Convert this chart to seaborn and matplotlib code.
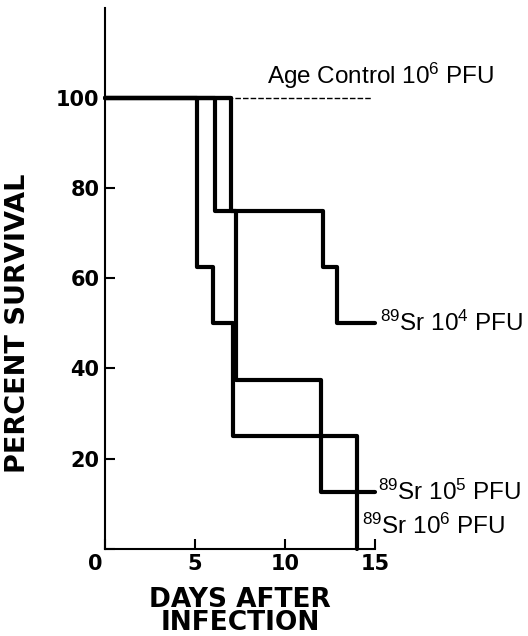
"""
Survival curves after infection, 89Sr treated vs age control.
"""

import matplotlib
matplotlib.use("Agg")
import matplotlib.pyplot as plt
from matplotlib.transforms import ScaledTranslation
import seaborn as sns
import pandas as pd

# step points (day, percent surviving), drawn as steps-post
days_1e4 = [0, 7.0, 12.1, 12.9, 15]
surv_1e4 = [100, 75, 62.5, 50, 50]

days_1e5 = [0, 6.1, 7.3, 12.0, 15]
surv_1e5 = [100, 75, 37.5, 12.5, 12.5]

days_1e6 = [0, 5.1, 6.0, 7.1, 14.0]
surv_1e6 = [100, 62.5, 50, 25, 0]

days_ctrl = [0, 14.8]
surv_ctrl = [100, 100]

x_ticks = [0, 5, 10, 15]
y_ticks = [0, 20, 40, 60, 80, 100]

sns.set_style("ticks")
plt.rcParams['font.family'] = ['DejaVu Sans']
plt.rcParams['mathtext.fontset'] = 'custom'
plt.rcParams['mathtext.rm'] = 'Liberation Sans'
plt.rcParams['mathtext.it'] = 'Liberation Sans:italic'
plt.rcParams['mathtext.bf'] = 'Liberation Sans:bold'
for key in ['text.color', 'axes.labelcolor', 'xtick.color', 'ytick.color', 'axes.edgecolor']:
    plt.rcParams[key] = 'black'

fig = plt.figure(figsize=(5.28, 6.36), dpi=100)
ax = fig.add_axes([0.199, 0.137, 0.511, 0.851])

step_kw = dict(color='black', linewidth=3.0, estimator=None, sort=False,
               drawstyle='steps-post', legend=False, clip_on=False)
sns.lineplot(x=days_ctrl, y=surv_ctrl, ax=ax, color='black', linewidth=1.0,
             linestyle=(0, (4, 1.5)), estimator=None, sort=False, legend=False)
for d, s in [(days_1e4, surv_1e4), (days_1e5, surv_1e5), (days_1e6, surv_1e6)]:
    df = pd.DataFrame({'day': d, 'surv': s})
    sns.lineplot(data=df, x='day', y='surv', ax=ax, **step_kw)
# thick overlap of the early 100% segment
sns.lineplot(x=[0, 7.0], y=[100, 100], ax=ax, color='black', linewidth=3.0,
             estimator=None, sort=False, legend=False)

ax.set_xlim(0, 15)
ax.set_ylim(0, 120)
ax.set_xticks(x_ticks)
ax.set_yticks(y_ticks)
ax.set_xticklabels([str(t) for t in x_ticks])
ax.set_yticklabels([''] + [str(t) for t in y_ticks[1:]])
ax.tick_params(direction='in', length=7, width=1.5, labelsize=15, pad=4)
for lab in ax.get_xticklabels() + ax.get_yticklabels():
    lab.set_fontweight('bold')
lab0 = ax.get_xticklabels()[0]
lab0.set_transform(lab0.get_transform() + ScaledTranslation(-0.10, 0, fig.dpi_scale_trans))

sns.despine(ax=ax)
for side in ['left', 'bottom']:
    ax.spines[side].set_linewidth(1.5)

ax.set_ylabel('PERCENT SURVIVAL', fontsize=19.5, fontweight='bold')
ax.yaxis.set_label_coords(-0.274, 50 / 120)
ax.set_xlabel('DAYS AFTER\nINFECTION', fontsize=19, fontweight='bold', linespacing=0.85)
ax.xaxis.set_label_coords(0.5, -0.07)

txt = dict(fontsize=17.5, family='Liberation Sans', clip_on=False)
ax.text(9.0, 101.5, r'Age Control 10$^6$ PFU', ha='left', va='bottom', **txt)
ax.text(15.3, 50, r'$^{89}$Sr 10$^4$ PFU', ha='left', va='center', **txt)
ax.text(15.2, 12.5, r'$^{89}$Sr 10$^5$ PFU', ha='left', va='center', **txt)
ax.text(14.3, 5.0, r'$^{89}$Sr 10$^6$ PFU', ha='left', va='center', **txt)

fig.savefig('out.png', dpi=100)
